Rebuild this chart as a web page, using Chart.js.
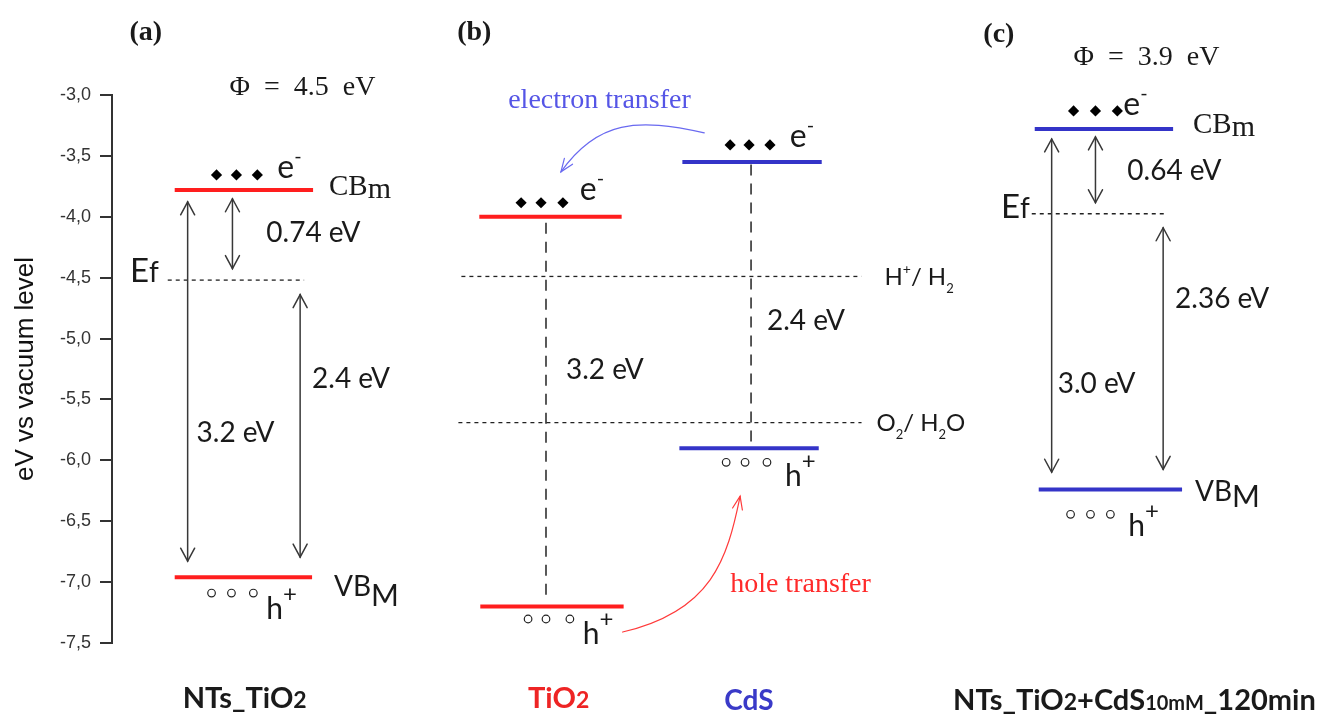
<!DOCTYPE html>
<html><head><meta charset="utf-8">
<script src="https://cdn.jsdelivr.net/npm/chart.js@4.4.1/dist/chart.umd.min.js"></script>
<style>html,body{margin:0;padding:0;background:#fff;}canvas{display:block;}</style>
</head><body>
<canvas id="c" width="1331" height="715"></canvas>
<script>
// ---------------- DATA ----------------
// y axis tick values and labels (eV vs vacuum level)
const yTickValues = [-3.0,-3.5,-4.0,-4.5,-5.0,-5.5,-6.0,-6.5,-7.0,-7.5];
const yTickLabels = ['-3,0','-3,5','-4,0','-4,5','-5,0','-5,5','-6,0','-6,5','-7,0','-7,5'];

// band levels (eV)
const levelNames  = ['NTs_TiO2 CB','NTs_TiO2 VB','TiO2 CB','TiO2 VB','CdS CB','CdS VB','TiO2+CdS CB','TiO2+CdS VB'];
const levelEnergy = [-3.78, -6.96, -4.00, -7.20, -3.55, -5.90, -3.28, -6.24];

// reference / Fermi levels (eV)
const refNames  = ['Ef (a)','H+/H2','O2/H2O','Ef (c)'];
const refEnergy = [-4.52, -4.49, -5.69, -3.975];

// band-gap guide lines in (b): [top, bottom] eV
const gapGuideTiO2 = [-4.05, -7.12];
const gapGuideCdS  = [-3.57, -5.90];

// carriers (eV of the row of dots)
const electronRows = [-3.656, -3.885, -3.410, -3.131];
const holeRows     = [-7.090, -7.303, -6.016, -6.443];

// straight arrows: [top tip, bottom tip] eV
const arrowsA = [[-3.877,-6.828],[-3.852,-4.426],[-4.639,-6.795]];
const arrowsC = [[-3.361,-6.098],[-3.344,-3.885],[-4.090,-6.074]];

// ---------------- LAYOUT (x in horizontal units, styles) ----------------
const levelX = [[175,314],[175,313],[481,624],[482,626],[685,825],[682,822],[1039,1178],[1043,1187]];
const RED = '#ff1e1e', BLUE = '#3434c8';
const levelColor = [RED,RED,RED,RED,BLUE,BLUE,BLUE,BLUE];
const refX = [[168,305],[463,865],[460,865],[1036,1172]];
const electronX = [[217,237,258],[523,543,565],[733,752,773],[1078,1100,1122]];
const holeX     = [[212,232,254],[530,548,572],[729,748,770],[1075,1095,1115]];
const arrowAX = [188,233,301];
const arrowCX = [1056,1100,1168];
const gapGuideX = [548, 754];

const datasets = [];
levelEnergy.forEach((e,i)=>{
  datasets.push({label:levelNames[i], data:[{x:levelX[i][0],y:e},{x:levelX[i][1],y:e}],
    borderColor:levelColor[i], borderWidth:4, pointRadius:0, borderCapStyle:'butt'});
});
refEnergy.forEach((e,i)=>{
  datasets.push({label:refNames[i], data:[{x:refX[i][0],y:e},{x:refX[i][1],y:e}],
    borderColor:'#222', borderWidth:1.3, borderDash:[4,4], pointRadius:0});
});
[gapGuideTiO2, gapGuideCdS].forEach((g,i)=>{
  datasets.push({label:'gap guide '+i, data:[{x:gapGuideX[i],y:g[0]},{x:gapGuideX[i],y:g[1]}],
    borderColor:'#222', borderWidth:1.5, borderDash:[11,8], pointRadius:0});
});
electronRows.forEach((e,i)=>{
  datasets.push({label:'e '+i, data:electronX[i].map(x=>({x:x,y:e})), showLine:false,
    pointStyle:'rectRot', pointRadius:5.6, pointBackgroundColor:'#000', pointBorderColor:'#000', pointBorderWidth:0});
});
holeRows.forEach((e,i)=>{
  datasets.push({label:'h '+i, data:holeX[i].map(x=>({x:x,y:e})), showLine:false,
    pointStyle:'circle', pointRadius:3.8, pointBackgroundColor:'#fff', pointBorderColor:'#222', pointBorderWidth:1.2});
});

const SERIF='"Liberation Serif", "Times New Roman", serif';
const SANS='Lato, "Open Sans", sans-serif';
const f=(s,fam,b)=> (b?'bold ':'')+s+'px '+fam;
const TXT='#1a1a1a';

// text annotations: x unit, energy of baseline, segments [text,font,dy]
const texts = [
  {x:146, e:-2.549, align:'center', segs:[['(a)',f(28,SERIF,1)]]},
  {x:476, e:-2.549, align:'center', segs:[['(b)',f(28,SERIF,1)]]},
  {x:1003,e:-2.566, align:'center', segs:[['(c)',f(28,SERIF,1)]]},
  {x:230, e:-3.000, segs:[['Φ  =  4.5  eV',f(28,SERIF)]]},
  {x:1078,e:-2.754, segs:[['Φ  =  3.9  eV',f(28,SERIF)]]},
  // panel a
  {x:278, e:-3.680, segs:[['e',f(32,SANS)],['-',f(20,SANS),-15]]},
  {x:330, e:-3.820, segs:[['CB',f(29,SERIF)],['m',f(30,SERIF),3]]},
  {x:267, e:-4.205, segs:[['0.74 eV',f(28,SANS)]]},
  {x:130, e:-4.533, segs:[['E',f(33,SANS)],['f',f(28,SANS)]]},
  {x:313, e:-5.402, segs:[['2.4 eV',f(28,SANS)]]},
  {x:197, e:-5.852, segs:[['3.2 eV',f(28,SANS)]]},
  {x:267, e:-7.303, segs:[['h',f(30,SANS)],['+',f(24,SANS),-17]]},
  {x:335, e:-7.115, segs:[['VB',f(28,SANS)],['M',f(30,SANS),10]]},
  {x:183, e:-8.033, segs:[['NTs_TiO',f(29,SANS,1)],['2',f(23,SANS,1)]]},
  // panel b
  {x:510, e:-3.107, color:'#5555e6', segs:[['electron transfer',f(28,SERIF)]]},
  {x:582, e:-3.861, segs:[['e',f(32,SANS)],['-',f(20,SANS),-15]]},
  {x:793, e:-3.426, segs:[['e',f(32,SANS)],['-',f(20,SANS),-15]]},
  {x:888, e:-4.557, segs:[['H',f(24,SANS)],['+',f(14,SANS),-11],['/ H',f(24,SANS)],['2',f(13,SANS),8]]},
  {x:770, e:-4.926, segs:[['2.4 eV',f(28,SANS)]]},
  {x:568, e:-5.336, segs:[['3.2 eV',f(28,SANS)]]},
  {x:880, e:-5.762, segs:[['O',f(24,SANS)],['2',f(13,SANS),8],['/ H',f(24,SANS)],['2',f(13,SANS),8],['O',f(24,SANS)]]},
  {x:788, e:-6.213, segs:[['h',f(30,SANS)],['+',f(24,SANS),-17]]},
  {x:733, e:-7.082, color:'#ff2a2a', segs:[['hole transfer',f(28,SERIF)]]},
  {x:585, e:-7.508, segs:[['h',f(30,SANS)],['+',f(24,SANS),-17]]},
  {x:530, e:-8.033, color:'#ee2424', segs:[['TiO',f(29,SANS,1)],['2',f(23,SANS,1)]]},
  {x:727, e:-8.049, color:'#3a3ac8', segs:[['CdS',f(28,SANS,1)]]},
  // panel c
  {x:1128,e:-3.164, segs:[['e',f(32,SANS)],['-',f(20,SANS),-15]]},
  {x:1198,e:-3.311, segs:[['CB',f(29,SERIF)],['m',f(30,SERIF),3]]},
  {x:1132,e:-3.697, segs:[['0.64 eV',f(28,SANS)]]},
  {x:1005,e:-4.008, segs:[['E',f(33,SANS)],['f',f(28,SANS)]]},
  {x:1180,e:-4.746, segs:[['2.36 eV',f(28,SANS)]]},
  {x:1062,e:-5.443, segs:[['3.0 eV',f(28,SANS)]]},
  {x:1200,e:-6.336, segs:[['VB',f(28,SANS)],['M',f(30,SANS),6]]},
  {x:1133,e:-6.623, segs:[['h',f(30,SANS)],['+',f(24,SANS),-17]]},
  {x:957, e:-8.049, segs:[['NTs_TiO',f(29,SANS,1)],['2',f(23,SANS,1)],['+CdS',f(29,SANS,1)],['10mM',f(20,SANS,1)],['_120min',f(29,SANS,1)]]}
];

// curved transfer arrows: cubic bezier in (x unit, eV)
const curves = [
  {color:'#6a6af0', pts:[[707,-3.311],[640,-3.189],[600,-3.205],[563,-3.631]]},
  {color:'#ff3a3a', pts:[[625,-7.410],[715,-7.238],[730,-6.811],[743,-6.295]]}
];

function head(ctx, tx, ty, dx, dy, len, hw){
  const L=Math.hypot(dx,dy); const ux=dx/L, uy=dy/L; const px=-uy, py=ux;
  ctx.beginPath();
  ctx.moveTo(tx-ux*len+px*hw, ty-uy*len+py*hw);
  ctx.lineTo(tx,ty);
  ctx.lineTo(tx-ux*len-px*hw, ty-uy*len-py*hw);
  ctx.stroke();
}

const annot = {
  id:'annot',
  afterDatasetsDraw(chart){
    const ctx=chart.ctx, xs=chart.scales.x, ys=chart.scales.y;
    ctx.save();
    ctx.strokeStyle='#383838'; ctx.lineWidth=1.5; ctx.lineCap='round';
    const drawArrows=(arr,xsArr)=>arr.forEach((a,i)=>{
      const x=xs.getPixelForValue(xsArr[i]); const y1=ys.getPixelForValue(a[0]), y2=ys.getPixelForValue(a[1]);
      ctx.beginPath(); ctx.moveTo(x,y1); ctx.lineTo(x,y2); ctx.stroke();
      head(ctx,x,y1,0,-1,13,7); head(ctx,x,y2,0,1,13,7);
    });
    drawArrows(arrowsA,arrowAX); drawArrows(arrowsC,arrowCX);
    curves.forEach(c=>{
      const p=c.pts.map(q=>[xs.getPixelForValue(q[0]), ys.getPixelForValue(q[1])]);
      ctx.strokeStyle=c.color; ctx.lineWidth=1.2;
      ctx.beginPath(); ctx.moveTo(p[0][0],p[0][1]);
      ctx.bezierCurveTo(p[1][0],p[1][1],p[2][0],p[2][1],p[3][0],p[3][1]); ctx.stroke();
      head(ctx,p[3][0],p[3][1],p[3][0]-p[2][0],p[3][1]-p[2][1],13,5);
    });
    ctx.textBaseline='alphabetic';
    texts.forEach(t=>{
      ctx.fillStyle=t.color||TXT;
      let w=0; t.segs.forEach(s=>{ctx.font=s[1]; w+=ctx.measureText(s[0]).width;});
      let cx=xs.getPixelForValue(t.x); if(t.align==='center') cx-=w/2;
      const by=ys.getPixelForValue(t.e);
      ctx.textAlign='left';
      t.segs.forEach(s=>{ctx.font=s[1]; ctx.fillText(s[0],cx,by+(s[2]||0)); cx+=ctx.measureText(s[0]).width;});
    });
    ctx.restore();
  }
};

new Chart(document.getElementById('c').getContext('2d'), {
  type:'line',
  data:{datasets},
  options:{
    responsive:false, animation:false, devicePixelRatio:1,
    layout:{padding:{left:0,right:0,top:95,bottom:72}},
    plugins:{legend:{display:false}, tooltip:{enabled:false}},
    elements:{line:{tension:0}},
    scales:{
      x:{type:'linear', display:false, min:112, max:1331},
      y:{type:'linear', min:-7.5, max:-3.0,
        afterFit(s){ s.width=112; },
        ticks:{stepSize:0.5, color:'#333', padding:9,
          font:{family:'"Liberation Sans", Arial, sans-serif', size:18},
          callback:(v)=>{ const i=yTickValues.findIndex(t=>Math.abs(t-v)<1e-6); return i>=0?yTickLabels[i]:''; }},
        grid:{drawOnChartArea:false, drawTicks:true, tickLength:12, color:'#333', lineWidth:2},
        border:{display:true, color:'#333', width:2},
        title:{display:true, text:'eV vs vacuum level', color:'#111',
          font:{family:'"Liberation Sans", Arial, sans-serif', size:26}, padding:{top:10,bottom:0}}
      }
    }
  },
  plugins:[annot]
});
</script>
</body></html>
